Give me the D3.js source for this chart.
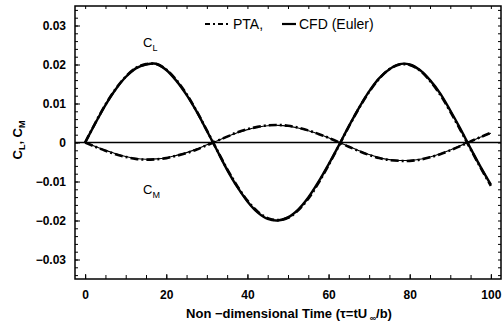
<!DOCTYPE html>
<html>
<head>
<meta charset="utf-8">
<script src="https://cdn.jsdelivr.net/npm/d3@7"></script>
<style>
  body { margin: 0; background: #fff; }
  svg { display: block; font-family: "Liberation Sans", Arial, sans-serif; }
</style>
</head>
<body>
<svg id="chart" width="503" height="324"></svg>
<script>
// values
const tau = [0, 2.5, 5, 7.5, 10, 12.5, 15, 17.5, 20, 22.5, 25, 27.5, 30, 32.5, 35, 37.5, 40,
  42.5, 45, 47.5, 50, 52.5, 55, 57.5, 60, 62.5, 65, 67.5, 70, 72.5, 75, 77.5, 80,
  82.5, 85, 87.5, 90, 92.5, 95, 97.5, 100];

const clCfd = [0, 0.0049, 0.0096, 0.0136, 0.0168, 0.0190, 0.0200, 0.0202, 0.0186, 0.0158, 0.0122,
  0.0079, 0.0030, -0.0020, -0.0070, -0.0114, -0.0151, -0.0179, -0.0196, -0.0200, -0.0192,
  -0.0172, -0.0141, -0.0101, -0.0056, -0.0008, 0.0042, 0.0089, 0.0131, 0.0165, 0.0188,
  0.0201, 0.0200, 0.0186, 0.0160, 0.0126, 0.0082, 0.0035, -0.0015, -0.0063, -0.0108];

const clPta = [0, 0.0050, 0.0097, 0.0137, 0.0169, 0.0191, 0.0201, 0.0201, 0.0187, 0.0160, 0.0124,
  0.0080, 0.0031, -0.0019, -0.0068, -0.0112, -0.0149, -0.0177, -0.0194, -0.0199, -0.0193,
  -0.0174, -0.0144, -0.0104, -0.0058, -0.0009, 0.0041, 0.0088, 0.0130, 0.0164, 0.0188,
  0.0200, 0.0199, 0.0185, 0.0158, 0.0123, 0.0079, 0.0032, -0.0017, -0.0065, -0.0111];

const cmCfd = [0, -0.0010, -0.0020, -0.0029, -0.0036, -0.0041, -0.0043, -0.0042, -0.0039, -0.0033,
  -0.0026, -0.0017, -0.0006, 0.0004, 0.0015, 0.0025, 0.0033, 0.0039, 0.0043, 0.0044, 0.0042,
  0.0037, 0.0030, 0.0022, 0.0012, 0.0001, -0.0010, -0.0021, -0.0031, -0.0039, -0.0044,
  -0.0046, -0.0046, -0.0043, -0.0037, -0.0029, -0.0019, -0.0008, 0.0003, 0.0014, 0.0024];

const cmPta = [0, -0.0011, -0.0021, -0.0030, -0.0037, -0.0042, -0.0044, -0.0043, -0.0040, -0.0034,
  -0.0027, -0.0018, -0.0007, 0.0004, 0.0015, 0.0026, 0.0034, 0.0040, 0.0044, 0.0045, 0.0043,
  0.0038, 0.0031, 0.0022, 0.0012, 0.0001, -0.0011, -0.0022, -0.0032, -0.0040, -0.0045,
  -0.0047, -0.0047, -0.0044, -0.0038, -0.0030, -0.0020, -0.0009, 0.0003, 0.0014, 0.0025];

const xTicks = [0, 20, 40, 60, 80, 100];
const xTickLabels = ['0', '20', '40', '60', '80', '100'];
const yTicks = [-0.03, -0.02, -0.01, 0, 0.01, 0.02, 0.03];
const yTickLabels = ['\u22120.03', '\u22120.02', '\u22120.01', '0', '0.01', '0.02', '0.03'];
const legendLabels = ['PTA,', 'CFD (Euler)'];

const svg = d3.select('#chart');
const plotLeft = 75, plotRight = 501, plotTop = 6, plotBottom = 279;

const x = d3.scaleLinear().domain([-2.5, 102.5]).range([plotLeft, plotRight]);
const y = d3.scaleLinear().domain([-0.035, 0.035]).range([plotBottom, plotTop]);

const dashDot = '8,3,2,3';

svg.append('clipPath').attr('id', 'plot')
  .append('rect')
  .attr('x', plotLeft).attr('y', plotTop)
  .attr('width', plotRight - plotLeft).attr('height', plotBottom - plotTop);

// minor ticks, all pointing inward
const xMinor = x.ticks(20);
const yMinor = y.ticks(35);

function tickAxis(axis, tx, ty) {
  const g = svg.append('g')
    .attr('transform', `translate(${tx},${ty})`)
    .call(axis);
  g.select('.domain').remove();
  g.selectAll('line').attr('stroke', '#000').attr('stroke-width', 1);
  return g;
}

tickAxis(d3.axisBottom(x).tickValues(xMinor).tickSize(-4).tickFormat(''), 0, plotBottom);
tickAxis(d3.axisTop(x).tickValues(xMinor).tickSize(-3).tickFormat(''), 0, plotTop);
tickAxis(d3.axisLeft(y).tickValues(yMinor).tickSize(-3).tickFormat(''), plotLeft, 0);
tickAxis(d3.axisRight(y).tickValues(yMinor).tickSize(-3).tickFormat(''), plotRight, 0);

// major ticks with labels
const xAxis = tickAxis(
  d3.axisBottom(x).tickValues(xTicks).tickSize(-5).tickPadding(11)
    .tickFormat((d, i) => xTickLabels[i]), 0, plotBottom);
const yAxis = tickAxis(
  d3.axisLeft(y).tickValues(yTicks).tickSize(-5).tickPadding(9)
    .tickFormat((d, i) => yTickLabels[i]), plotLeft, 0);

[xAxis, yAxis].forEach(g => g.selectAll('text')
  .attr('fill', '#000')
  .style('font-family', '"Liberation Sans", Arial, sans-serif')
  .style('font-size', '12px')
  .style('font-weight', 'bold'));

// zero line
svg.append('line')
  .attr('x1', plotLeft).attr('x2', plotRight)
  .attr('y1', y(0)).attr('y2', y(0))
  .attr('stroke', '#000').attr('stroke-width', 1.3);

const line = d3.line()
  .x(d => x(d[0]))
  .y(d => y(d[1]))
  .curve(d3.curveCatmullRom);

const curves = svg.append('g').attr('clip-path', 'url(#plot)');

function drawCurve(vals, width, dash) {
  curves.append('path')
    .datum(tau.map((t, i) => [t, vals[i]]))
    .attr('d', line)
    .attr('fill', 'none')
    .attr('stroke', '#000')
    .attr('stroke-width', width)
    .attr('stroke-linejoin', 'round')
    .attr('stroke-dasharray', dash);
}

drawCurve(cmCfd, 1.1, null);
drawCurve(cmPta, 2.6, dashDot);
drawCurve(clCfd, 2.4, null);
drawCurve(clPta, 2.6, dashDot);

// frame
svg.append('rect')
  .attr('x', plotLeft).attr('y', plotTop)
  .attr('width', plotRight - plotLeft).attr('height', plotBottom - plotTop)
  .attr('fill', 'none')
  .attr('stroke', '#000')
  .attr('stroke-width', 1.5);

// legend
const legend = svg.append('g').attr('transform', 'translate(0,24)');
legend.append('line')
  .attr('x1', 205).attr('x2', 231)
  .attr('stroke', '#000').attr('stroke-width', 2)
  .attr('stroke-dasharray', '5,3,2,3');
legend.append('text')
  .attr('x', 233).attr('y', 5)
  .style('font-size', '14px')
  .text(legendLabels[0]);
legend.append('line')
  .attr('x1', 282).attr('x2', 296)
  .attr('stroke', '#000').attr('stroke-width', 2.2);
legend.append('text')
  .attr('x', 299).attr('y', 5)
  .style('font-size', '14px')
  .text(legendLabels[1]);

// curve annotations
function subLabel(px, py, main, sub) {
  const t = svg.append('text')
    .attr('x', px).attr('y', py)
    .style('font-size', '13px');
  t.append('tspan').text(main);
  t.append('tspan').attr('dy', 4).style('font-size', '9px').text(sub);
}
subLabel(143, 47, 'C', 'L');
subLabel(143, 194, 'C', 'M');

// axis titles
const xTitle = svg.append('text')
  .attr('x', 289).attr('y', 318)
  .attr('text-anchor', 'middle')
  .style('font-size', '13px')
  .style('font-weight', 'bold');
xTitle.append('tspan').text('Non \u2212dimensional  Time (\u03c4=tU');
xTitle.append('tspan').attr('dy', 3).style('font-size', '9px').text(' \u221e');
xTitle.append('tspan').attr('dy', -3).text('/b)');

const yTitle = svg.append('text')
  .attr('transform', 'translate(22,140) rotate(-90)')
  .attr('text-anchor', 'middle')
  .style('font-size', '13px')
  .style('font-weight', 'bold');
yTitle.append('tspan').text('C');
yTitle.append('tspan').attr('dy', 3).style('font-size', '9px').text('L');
yTitle.append('tspan').attr('dy', -3).text(', C');
yTitle.append('tspan').attr('dy', 3).style('font-size', '9px').text('M');
</script>
</body>
</html>
